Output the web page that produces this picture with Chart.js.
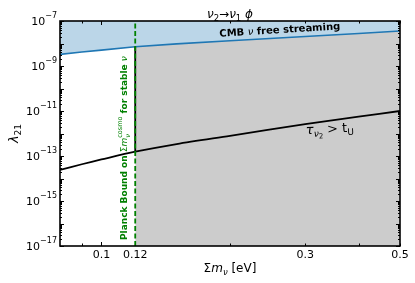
<!DOCTYPE html>
<html>
<head>
<meta charset="utf-8">
<script src="https://cdn.jsdelivr.net/npm/chart.js@4"></script>
<style>
html,body{margin:0;padding:0;background:#fff;}
#wrap{width:415px;height:283px;}
</style>
</head>
<body>
<div id="wrap"><canvas id="c" width="415" height="283"></canvas></div>
<script>
// ---- data ----
const massSum = [0.08, 0.09, 0.1, 0.12, 0.15, 0.2, 0.3, 0.4, 0.5];
const cmbFreeStreaming = [3.3e-9, 4.2e-9, 5.1e-9, 7.2e-9, 9.6e-9, 1.32e-8, 2.05e-8, 2.8e-8, 3.6e-8];
const lifetimeBound = [2.4e-14, 4.3e-14, 7e-14, 1.55e-13, 3.4e-13, 7.9e-13, 2.6e-12, 5.6e-12, 1e-11];
const planckBound = 0.12;
const xRange = [0.08, 0.5];
const yRange = [1e-17, 1e-7];
const xTickValues = [0.1, 0.12, 0.3, 0.5];
const xTickLabels = ['0.1', '0.12', '0.3', '0.5'];
const xMinorTicks = [0.09, 0.1, 0.2, 0.3, 0.4, 0.5];
const yTickExponents = [-7, -9, -11, -13, -15, -17];

// ---- derived datasets ----
const pts = (xs, ys) => xs.map((x, i) => ({x: x, y: ys[i]}));
const blueLine = pts(massSum, cmbFreeStreaming);
const blackLine = pts(massSum, lifetimeBound);
const grayRegion = blueLine.filter(p => p.x >= planckBound);
const iP = massSum.indexOf(planckBound);
const vertSeg = [{x: planckBound, y: lifetimeBound[iP]}, {x: planckBound, y: cmbFreeStreaming[iP]}];
const planckLine = [{x: planckBound, y: yRange[0]}, {x: planckBound, y: yRange[1]}];

const FF = '"DejaVu Sans"';
Chart.defaults.font.family = FF;
Chart.defaults.color = '#000';

function drawRich(ctx, parts, x, y, rot, align, color) {
  ctx.save();
  ctx.translate(x, y);
  ctx.rotate(rot);
  const widths = parts.map(p => { ctx.font = p.f; return ctx.measureText(p.t).width; });
  let w = 0, held = 0;
  parts.forEach((p, i) => {
    if (p.stay) { held = widths[i]; }
    else { w += Math.max(widths[i], held); held = 0; }
  });
  let cx = align === 'center' ? -w / 2 : (align === 'right' ? -w : 0);
  ctx.textBaseline = 'alphabetic';
  ctx.textAlign = 'left';
  held = 0;
  parts.forEach((p, i) => {
    ctx.font = p.f;
    ctx.fillStyle = p.c || color || '#000';
    ctx.fillText(p.t, cx, p.dy || 0);
    if (p.stay) { held = widths[i]; }
    else { cx += Math.max(widths[i], held); held = 0; }
  });
  ctx.restore();
}

const decor = {
  id: 'decor',
  afterDatasetsDraw(chart) {
    const ctx = chart.ctx;
    const a = chart.chartArea;
    const xs = chart.scales.x, ys = chart.scales.y;
    ctx.save();
    ctx.strokeStyle = '#000';
    // ticks (inward)
    ctx.lineWidth = 1;
    ctx.beginPath();
    for (let e = -17; e <= -7; e++) {
      const py = Math.round(ys.getPixelForValue(Math.pow(10, e))) + 0.5;
      ctx.moveTo(a.left, py); ctx.lineTo(a.left + 4, py);
      ctx.moveTo(a.right, py); ctx.lineTo(a.right - 4, py);
      if (e < -7) {
        for (let m = 2; m <= 9; m++) {
          const pm = Math.round(ys.getPixelForValue(m * Math.pow(10, e))) + 0.5;
          ctx.moveTo(a.left, pm); ctx.lineTo(a.left + 2, pm);
          ctx.moveTo(a.right, pm); ctx.lineTo(a.right - 2, pm);
        }
      }
    }
    xMinorTicks.forEach(v => {
      const px = Math.round(xs.getPixelForValue(v)) + 0.5;
      const L = v === 0.1 ? 4 : 2.5;
      ctx.moveTo(px, a.bottom); ctx.lineTo(px, a.bottom - L);
      ctx.moveTo(px, a.top); ctx.lineTo(px, a.top + L);
    });
    ctx.stroke();
    // frame
    ctx.lineWidth = 1.6;
    ctx.strokeRect(a.left, a.top, a.right - a.left, a.bottom - a.top);
    ctx.restore();

    // y tick labels
    yTickExponents.forEach(e => {
      const py = ys.getPixelForValue(Math.pow(10, e));
      drawRich(ctx, [
        {t: '10', f: '11px ' + FF},
        {t: '\u2212' + Math.abs(e), f: '8px ' + FF, dy: -7}
      ], a.left - 3, py + 4, 0, 'right');
    });

    // axis titles
    drawRich(ctx, [
      {t: '\u03A3', f: '12px ' + FF},
      {t: 'm', f: 'italic 12px ' + FF},
      {t: '\u03BD', f: 'italic 8.5px ' + FF, dy: 2.5},
      {t: ' [eV]', f: '12px ' + FF}
    ], (a.left + a.right) / 2, 272, 0, 'center');
    drawRich(ctx, [
      {t: '\u03BB', f: 'italic 13px ' + FF},
      {t: '21', f: '9px ' + FF, dy: 3}
    ], 18, (a.top + a.bottom) / 2, -Math.PI / 2, 'center');

    // title
    drawRich(ctx, [
      {t: '\u03BD', f: 'italic 12px ' + FF},
      {t: '2', f: '8.5px ' + FF, dy: 2.5},
      {t: '\u2192', f: '12px ' + FF},
      {t: '\u03BD', f: 'italic 12px ' + FF},
      {t: '1', f: '8.5px ' + FF, dy: 2.5},
      {t: ' ', f: '12px ' + FF},
      {t: '\u03D5', f: 'italic 12px ' + FF}
    ], (a.left + a.right) / 2, 18, 0, 'center');

    // CMB label
    drawRich(ctx, [
      {t: 'CMB ', f: 'bold 10px ' + FF},
      {t: '\u03BD', f: 'italic 10px ' + FF},
      {t: ' free streaming', f: 'bold 10px ' + FF}
    ], 280, 33, -3.5 * Math.PI / 180, 'center');

    // lifetime label
    drawRich(ctx, [
      {t: '\u03C4', f: 'italic 13px ' + FF},
      {t: '\u03BD', f: 'italic 9px ' + FF, dy: 3},
      {t: '2', f: '7px ' + FF, dy: 5},
      {t: ' > t', f: '13px ' + FF},
      {t: 'U', f: '9px ' + FF, dy: 3}
    ], 330, 133, -3 * Math.PI / 180, 'center');

    // Planck label
    const px = xs.getPixelForValue(planckBound);
    const G = '#008000';
    drawRich(ctx, [
      {t: 'Planck Bound on ', f: 'bold 9px ' + FF},
      {t: '\u03A3', f: '9px ' + FF},
      {t: 'm', f: 'italic 9px ' + FF},
      {t: '\u03BD', f: 'italic 6.5px ' + FF, dy: 2.5, stay: true},
      {t: 'cosmo', f: '6.5px ' + FF, dy: -5},
      {t: ' for stable ', f: 'bold 9px ' + FF},
      {t: '\u03BD', f: 'italic 9px ' + FF}
    ], px - 8, a.bottom - 6, -Math.PI / 2, 'left', G);
  }
};

new Chart(document.getElementById('c'), {
  type: 'scatter',
  data: {
    datasets: [
      {data: planckLine, showLine: true, borderColor: '#008000', borderWidth: 1.8, borderDash: [5, 2.5], pointRadius: 0, fill: false},
      {data: vertSeg, showLine: true, borderColor: '#000', borderWidth: 1.8, pointRadius: 0, fill: false},
      {data: blackLine, showLine: true, borderColor: '#000', borderWidth: 1.8, pointRadius: 0, fill: false, tension: 0.3},
      {data: blueLine, showLine: true, borderColor: '#1f77b4', borderWidth: 1.6, pointRadius: 0, fill: 'end', backgroundColor: 'rgba(31,119,180,0.3)'},
      {data: grayRegion, showLine: true, borderColor: 'rgba(0,0,0,0)', borderWidth: 0, pointRadius: 0, fill: 'start', backgroundColor: '#cccccc'}
    ]
  },
  options: {
    responsive: false,
    animation: false,
    events: [],
    layout: {padding: {top: 21, right: 15, left: 0, bottom: 0}},
    plugins: {legend: {display: false}, tooltip: {enabled: false}},
    scales: {
      x: {
        type: 'logarithmic', min: xRange[0], max: xRange[1],
        grid: {display: false, drawTicks: false},
        border: {display: false},
        afterBuildTicks: s => { s.ticks = xTickValues.map(v => ({value: v})); },
        afterFit: s => { s.height = 37; },
        ticks: {
          autoSkip: false, maxRotation: 0, padding: 3,
          font: {size: 11, family: FF}, color: '#000',
          callback: (v) => { const i = xTickValues.indexOf(v); return i >= 0 ? xTickLabels[i] : ''; }
        }
      },
      y: {
        type: 'logarithmic', min: yRange[0], max: yRange[1],
        grid: {display: false, drawTicks: false},
        border: {display: false},
        ticks: {display: false},
        afterFit: s => { s.width = 60; }
      }
    }
  },
  plugins: [decor]
});
</script>
</body>
</html>
